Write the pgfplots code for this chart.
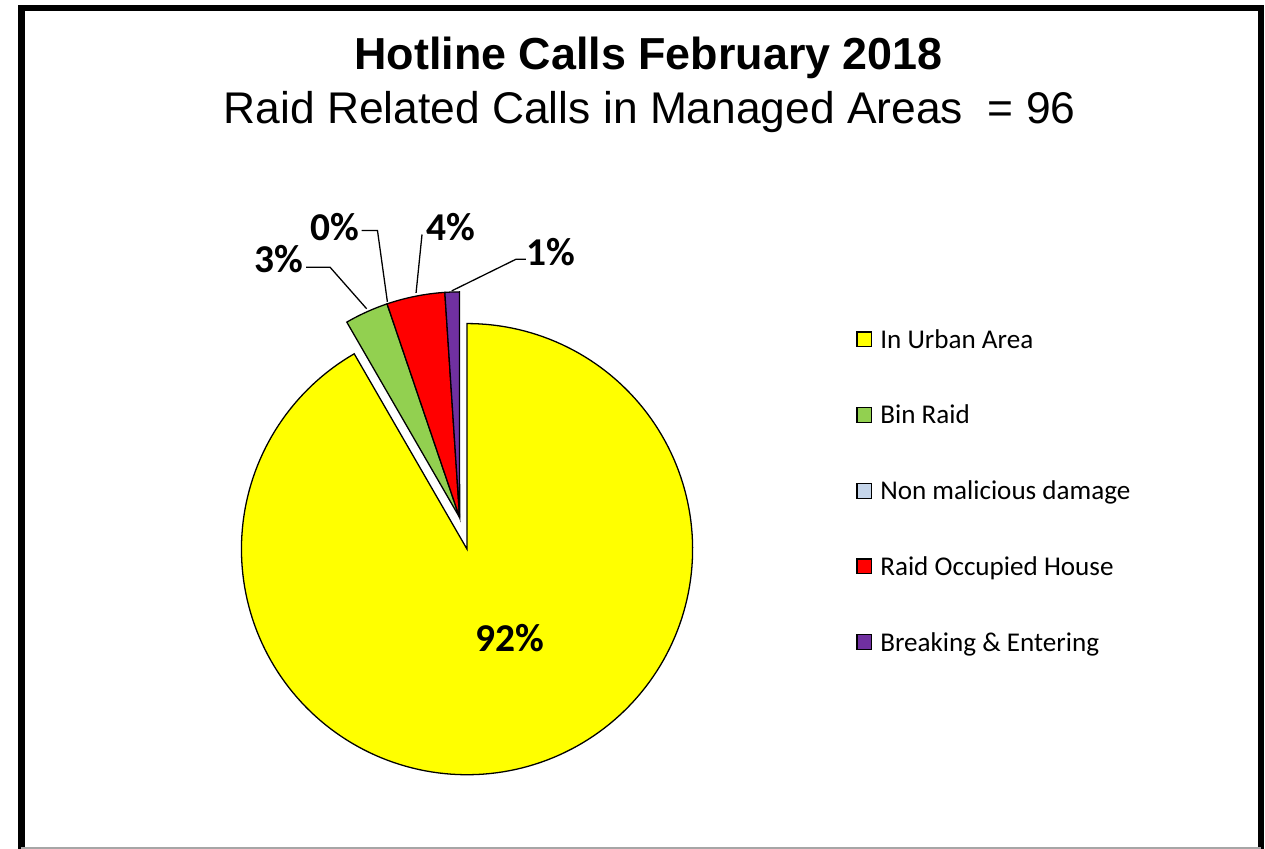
\documentclass[border=0pt]{standalone}
\usepackage{pgfplots}
\pgfplotsset{compat=1.18}
\usepackage{pgfplotstable}
\usepackage{fontspec}
\setmainfont{Carlito}
\newfontfamily\arialfont{Liberation Sans}
\definecolor{cyellow}{HTML}{FFFF00}
\definecolor{cgreen}{HTML}{92D050}
\definecolor{cblue}{HTML}{C5D5EA}
\definecolor{cred}{HTML}{FF0000}
\definecolor{cpurple}{HTML}{7030A0}
\begin{document}
\pgfplotstableread{
label value
Urban 88
Bin 3
Non 0
Raid 4
BE 1
}\piedata
\pgfplotstablegetelem{0}{value}\of\piedata\let\vA\pgfplotsretval
\pgfplotstablegetelem{1}{value}\of\piedata\let\vB\pgfplotsretval
\pgfplotstablegetelem{2}{value}\of\piedata\let\vC\pgfplotsretval
\pgfplotstablegetelem{3}{value}\of\piedata\let\vD\pgfplotsretval
\pgfplotstablegetelem{4}{value}\of\piedata\let\vE\pgfplotsretval
\pgfmathsetmacro\tot{\vA+\vB+\vC+\vD+\vE}
\pgfmathsetmacro\eA{\vA/\tot*360}
\pgfmathsetmacro\eB{\eA+\vB/\tot*360}
\pgfmathsetmacro\eC{\eB+\vC/\tot*360}
\pgfmathsetmacro\eD{\eC+\vD/\tot*360}
\pgfmathsetmacro\eE{\eD+\vE/\tot*360}
\begin{tikzpicture}
\begin{axis}[at={(0,0)}, anchor=south west, scale only axis,
  width=1265bp, height=858bp, xmin=0, xmax=1265, ymin=0, ymax=858,
  y dir=reverse, hide axis, ticks=none, clip=false,
  legend image code/.code={\draw[#1, line width=1.2bp] (0bp,-5bp) rectangle (15bp,10bp);},
  legend cell align=left,
  legend style={at={(axis cs:852,333)}, anchor=north west, draw=none, fill=none,
    inner sep=0pt, outer sep=0pt, row sep=51.5bp, column sep=8bp,
    font=\fontsize{27.5}{30}\selectfont,
    nodes={inner sep=0pt, text height=19bp, text depth=6bp}},
]
\addplot[fill=cyellow, draw=black, line width=1.3bp, domain=0:\eA, samples=200, variable=\t]
  ({458.5+228*sin(\t)},{555-228*cos(\t)}) -- (axis cs:458.5,555) -- cycle;
\addlegendentry{In Urban Area}
\addplot[fill=cgreen, draw=black, line width=1.3bp, domain=\eA:\eB, samples=20, variable=\t]
  ({451+228*sin(\t)},{523-228*cos(\t)}) -- (axis cs:451,523) -- cycle;
\addlegendentry{Bin Raid}
\addlegendimage{fill=cblue, draw=black}
\addlegendentry{Non malicious damage}
\addplot[fill=cred, draw=black, line width=1.3bp, domain=\eC:\eD, samples=20, variable=\t]
  ({451+228*sin(\t)},{523-228*cos(\t)}) -- (axis cs:451,523) -- cycle;
\addlegendentry{Raid Occupied House}
\addplot[fill=cpurple, draw=black, line width=1.3bp, domain=\eD:\eE, samples=10, variable=\t]
  ({451+228*sin(\t)},{523-228*cos(\t)}) -- (axis cs:451,523) -- cycle;
\addlegendentry{Breaking \& Entering}
% leader lines
\addplot[black, line width=1.3bp, forget plot] coordinates {(296,270) (320,270) (357,312)};
\addplot[black, line width=1.3bp, forget plot] coordinates {(352,233) (368,233) (378,305)};
\addplot[black, line width=1.3bp, forget plot] coordinates {(413,237) (407,296)};
\addplot[black, line width=1.3bp, forget plot] coordinates {(518,262) (508,262) (443,294)};
% labels
\begin{scope}[every node/.style={font=\bfseries\fontsize{40}{42}\selectfont, inner sep=0pt}]
\node at (axis cs:268,262) {3\%};
\node at (axis cs:325,230) {0\%};
\node at (axis cs:442,230) {4\%};
\node at (axis cs:543,255) {1\%};
\node at (axis cs:502,645) {92\%};
\end{scope}
% titles
\node[font=\arialfont\bfseries\fontsize{45.5}{50}\selectfont, anchor=base, inner sep=0pt] at (axis cs:642,70) {Hotline Calls February 2018};
\node[font=\arialfont\fontsize{45}{50}\selectfont, anchor=base, inner sep=0pt] at (axis cs:643,125) {Raid Related Calls in Managed Areas \ = 96};
% frame
\draw[line width=6.5bp] (axis cs:8,858) -- (axis cs:8,8) -- (axis cs:1261,8) -- (axis cs:1261,858);
\draw[black!35, line width=1.5bp] (axis cs:8,857) -- (axis cs:1261,857);
\end{axis}
\pgfresetboundingbox
\path[use as bounding box] (0,0) rectangle (1265bp,858bp);
\end{tikzpicture}
\end{document}
